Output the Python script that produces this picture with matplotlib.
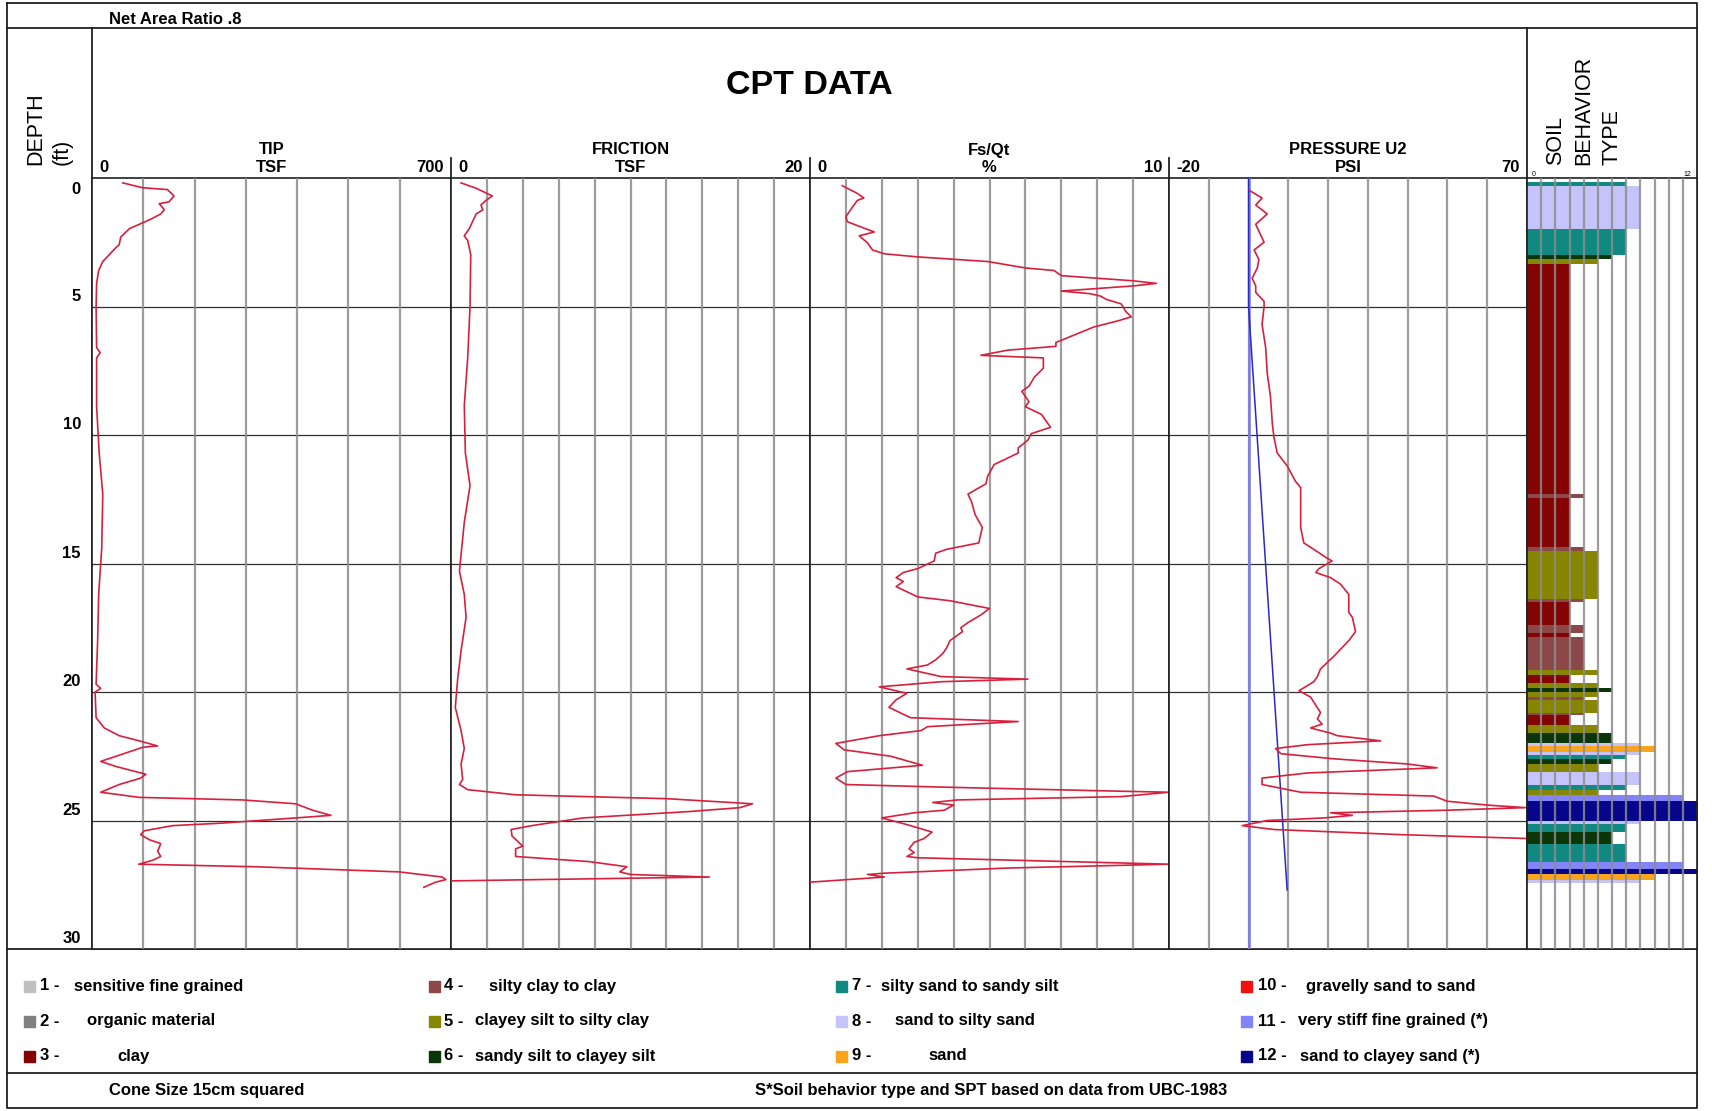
import matplotlib.pyplot as plt
from matplotlib import transforms

plt.rcParams['font.family'] = ['Liberation Sans', 'DejaVu Sans']

W, H = 1712, 1111

# ---- data (depth in ft) ----
tip_depth = [0.19, 0.38, 0.45, 0.7, 0.93, 1.0, 1.23, 1.4, 1.6, 1.97, 2.3, 2.6, 2.7, 2.98, 3.25, 3.6, 4.1,
             5.0, 6.6, 6.8, 7.0, 8.9, 10.7, 12.3, 14.4, 16.2, 18.0, 19.7, 19.86, 20.0, 21.0, 21.4, 21.7,
             21.9, 22.1, 22.15, 22.5, 22.7, 22.9, 23.2, 23.35, 23.6, 23.9, 24.1, 24.2, 24.35, 24.6, 24.8,
             24.9, 25.1, 25.2, 25.4, 25.55, 25.75, 25.9, 26.2, 26.4, 26.55, 26.7, 26.8, 27.0, 27.2, 27.3,
             27.4, 27.6]
tip_tsf = [60, 99, 147, 160, 150, 131, 141, 134, 115, 73, 56, 53, 47, 34, 21, 13, 9,
           8, 9, 16, 9, 9, 14, 21, 19, 13, 11, 8, 17, 6, 8, 24, 53,
           92, 128, 99, 47, 17, 47, 105, 95, 53, 17, 92, 294, 397, 430, 466,
           397, 255, 157, 102, 95, 112, 134, 128, 134, 118, 91, 320, 599, 683, 690,
           670, 647]

fric_depth = [0.19, 0.4, 0.7, 0.87, 1.05, 1.24, 1.4, 1.7, 1.97, 2.25, 2.43, 2.98, 5.0, 7.0, 8.85, 10.7,
              11.97, 13.4, 15.3, 16.2, 17.1, 18.4, 19.5, 20.6, 21.5, 22.2, 22.8, 23.4, 23.6, 23.8, 24.0,
              24.15, 24.35, 24.5, 24.65, 24.9, 25.2, 25.35, 25.6, 26.0, 26.1, 26.4, 26.6, 26.8, 27.0,
              27.1, 27.2, 27.35]
fric_tsf = [0.56, 1.4, 2.3, 1.95, 1.67, 1.77, 1.4, 1.2, 1.02, 0.74, 0.93, 1.1, 1.06, 0.93, 0.74, 0.8,
            1.06, 0.74, 0.47, 0.74, 0.84, 0.56, 0.37, 0.24, 0.56, 0.74, 0.56, 0.65, 0.47, 0.93, 3.6,
            12.0, 16.8, 16.1, 13.3, 7.35, 4.5, 3.35, 3.4, 4.0, 3.6, 3.6, 7.7, 9.8, 9.4,
            10.0, 14.4, 0.0]

ratio_depth = [0.3, 0.6, 0.78, 0.87, 1.14, 1.5, 1.7, 1.88, 2.1, 2.25, 2.52, 2.8, 2.95, 3.07, 3.25, 3.5,
               3.6, 3.8, 4.0, 4.1, 4.2, 4.4, 4.5, 4.6, 4.72, 4.9, 5.2, 5.4, 5.55, 5.8, 6.2, 6.4, 6.55,
               6.7, 6.9, 7.0, 7.4, 7.75, 8.1, 8.3, 8.7, 8.9, 9.2, 9.7, 9.95, 10.2, 10.5, 10.7, 11.15,
               11.6, 11.9, 12.3, 12.6, 13.1, 13.6, 14.2, 14.45, 14.6, 14.9, 15.2, 15.35, 15.55, 15.7,
               15.9, 16.3, 16.45, 16.75, 17.0, 17.3, 17.5, 17.65, 18.0, 18.3, 18.5, 18.75, 18.95, 19.1,
               19.4, 19.5, 19.6, 19.8, 20.05, 20.3, 20.6, 21.0, 21.15, 21.35, 21.5, 21.7, 22.0, 22.25,
               22.5, 22.85, 23.1, 23.35, 23.6, 23.7, 23.85, 23.9, 24.07, 24.2, 24.3, 24.4, 24.6, 24.7,
               24.9, 25.16, 25.45, 25.7, 25.85, 26.1, 26.25, 26.4, 26.45, 26.7, 26.85, 27.05, 27.1,
               27.2, 27.4]
ratio_pct = [0.9, 1.32, 1.5, 1.32, 1.18, 1.0, 1.04, 1.37, 1.79, 1.37, 1.6, 1.74, 2.07, 3.0, 4.95, 6.0,
             6.8, 7.0, 9.0, 9.65, 9.0, 7.0, 7.8, 8.1, 8.25, 8.67, 8.8, 8.95, 8.6, 7.9, 7.2, 6.85, 6.85,
             5.5, 4.76, 6.5, 6.5, 6.25, 6.1, 5.9, 6.1, 6.0, 6.45, 6.7, 6.16, 6.07, 5.8, 5.8, 5.13,
             4.95, 4.9, 4.4, 4.5, 4.6, 4.8, 4.7, 3.8, 3.5, 3.46, 3.0, 2.6, 2.4, 2.6,
             2.4, 3.0, 3.9, 5.0, 4.76, 4.4, 4.2, 4.25, 3.9, 3.8, 3.7, 3.5, 3.27, 2.7,
             3.65, 6.07, 3.65, 1.93, 2.7, 2.4, 2.2, 2.8, 5.8, 3.27, 3.1, 1.93, 0.72, 0.95,
             2.25, 3.13, 1.04, 0.72, 1.0, 3.65, 8.3, 10.0, 8.67, 4.1, 3.42, 4.0, 3.74, 2.9,
             2.0, 2.7, 3.4, 3.18, 2.9, 2.76, 2.9, 2.7, 3.0, 10.0, 5.5, 2.07, 1.6,
             2.07, 0.0]

u2_depth = [0.5, 0.78, 1.05, 1.4, 1.8, 2.07, 2.5, 2.8, 3.17, 3.5, 3.9, 4.2, 4.45, 4.8, 5.0, 5.7, 6.6,
            7.6, 8.5, 9.6, 10.1, 10.7, 11.2, 11.8, 12.05, 12.5, 13.6, 14.2, 14.5, 14.8, 14.9, 15.2,
            15.35, 15.55, 15.8, 16.2, 16.9, 17.1, 17.65, 18.0, 18.6, 19.1, 19.4, 19.6, 19.95, 20.2,
            20.8, 21.05, 21.25, 21.4, 21.6, 21.7, 21.9, 22.05, 22.2, 22.4, 22.6, 22.8, 22.95, 23.15,
            23.35, 23.6, 23.9, 24.05, 24.25, 24.4, 24.5, 24.6, 24.7, 24.8, 24.9, 25.0, 25.2, 25.35,
            25.55, 25.7]
u2_psi = [0.4, 3.4, 1.8, 4.7, 1.8, 2.6, 3.9, 1.4, 2.6, 2.2, 0.9, 1.8, 1.8, 3.9, 3.9, 3.4, 4.3,
          4.7, 5.5, 6.0, 6.4, 7.2, 9.7, 11.8, 13.1, 13.1, 13.1, 13.9, 16.9, 19.8, 21.0, 17.7,
          16.9, 20.6, 23.1, 25.2, 25.2, 26.1, 26.9, 25.2, 21.5, 18.1, 17.3, 16.4, 12.7, 15.6,
          18.1, 17.3, 18.5, 15.6, 20.6, 22.3, 33.2, 14.8, 6.8, 8.1, 21.5, 39.9, 47.4, 14.8,
          3.4, 3.4, 13.1, 46.6, 49.9, 60.0, 69.6, 49.9, 20.6, 26.1, 19.0, 4.7, -1.6, 6.4,
          38.2, 70.0]

hydro_depth = [0, 5, 27.7]
hydro_psi = [0, 0, 9.7]

sbt_top = [0.15, 0.3, 2.0, 3.0, 3.15, 3.35, 12.3, 12.45, 14.35, 14.5, 16.4, 16.5, 17.4, 17.7, 17.85,
           19.15, 19.35, 19.65, 19.85, 20.0, 20.2, 20.3, 20.8, 20.9, 21.3, 21.6, 22.0, 22.1, 22.35,
           22.45, 22.6, 22.8, 23.1, 23.6, 23.8, 24.0, 24.25, 25.0, 25.15, 25.45, 25.9, 26.6, 26.9,
           27.1, 27.3]
sbt_bottom = sbt_top[1:] + [27.45]
sbt_zone = [7, 8, 7, 6, 5, 3, 4, 3, 4, 5, 4, 3, 4, 3, 4,
            5, 3, 5, 6, 5, 4, 5, 4, 3, 5, 6, 8, 9, 8,
            7, 6, 5, 8, 7, 5, 11, 12, 8, 7, 6, 7, 11, 12,
            9, 8]

zone_names = ['sensitive fine grained', 'organic material', 'clay', 'silty clay to clay',
              'clayey silt to silty clay', 'sandy silt to clayey silt', 'silty sand to sandy silt',
              'sand to silty sand', 'sand', 'gravelly sand to sand', 'very stiff fine grained (*)',
              'sand to clayey sand (*)']
zone_colors = ['#c0c0c0', '#808080', '#840404', '#8c4848', '#868600', '#0a360a', '#108a80',
               '#c4c4fa', '#f8a41c', '#f01010', '#8484fa', '#06068a']

track_edges = [92, 451, 810, 1169, 1527, 1697]
track_limits = [(0, 700), (0, 20), (0, 10), (-20, 70), (0, 12)]
track_steps = [100, 2, 1, 10, 1]
track_titles = [('TIP', 'TSF', '0', '700'), ('FRICTION', 'TSF', '0', '20'),
                ('Fs/Qt', '%', '0', '10'), ('PRESSURE U2', 'PSI', '-20', '70')]
y_top, y_bot = 178, 949

line_red = '#d8203c'
bold = dict(fontweight='bold', fontsize=12)

fig = plt.figure(figsize=(W / 100, H / 100), dpi=100)
ax0 = fig.add_axes([0, 0, 1, 1], zorder=0)
ax0.set_xlim(0, W)
ax0.set_ylim(H, 0)
ax0.axis('off')

# frame and separators
k = dict(color='#202020', lw=1.3)
ax0.plot([7, 1697, 1697, 7, 7], [3, 3, 1108, 1108, 3], **k)
ax0.plot([7, 1697], [28, 28], **k)
ax0.plot([7, 1697], [y_bot, y_bot], **k)
ax0.plot([7, 1697], [1073, 1073], **k)
ax0.plot([92, 92], [28, y_bot], **k)
ax0.plot([1527, 1527], [28, y_bot], **k)
for xe in track_edges[1:4]:
    ax0.plot([xe, xe], [158, y_top], **k)

ax0.text(109, 19, 'Net Area Ratio .8', ha='left', va='center', **bold)
ax0.text(809, 86, 'CPT DATA', ha='center', va='center', fontsize=24.5, fontweight='bold')
ax0.text(49, 165, 'DEPTH\n(ft)', rotation=90, ha='center', va='bottom', multialignment='left',
         fontsize=15.5, linespacing=1.3)
ax0.text(1584, 165, 'SOIL\nBEHAVIOR\nTYPE', rotation=90, ha='center', va='bottom',
         multialignment='left', fontsize=15.5, linespacing=1.45)

axes = []
for i in range(5):
    x0, x1 = track_edges[i], track_edges[i + 1]
    ax = fig.add_axes([x0 / W, 1 - y_bot / H, (x1 - x0) / W, (y_bot - y_top) / H], zorder=1)
    lo, hi = track_limits[i]
    ax.set_xlim(lo, hi)
    ax.set_ylim(30, 0)
    ax.set_xticks([])
    ax.set_yticks([])
    for s in ax.spines.values():
        s.set_color('#202020')
        s.set_linewidth(1.2)
    v = lo + track_steps[i]
    while v < hi - 1e-9:
        ax.axvline(v, color='#8c8c8c', lw=1.6, zorder=3, alpha=0.85)
        v += track_steps[i]
    if i < 4:
        for d in range(5, 30, 5):
            ax.axhline(d, color='#303030', lw=0.9, zorder=2)
        cx = (x0 + x1) / 2
        t, u, a, b = track_titles[i]
        ax0.text(cx, 150, t, ha='center', va='center', **bold)
        ax0.text(cx, 168, u, ha='center', va='center', **bold)
        ax0.text(x0 + 7, 168, a, ha='left', va='center', **bold)
        ax0.text(x1 - 7, 168, b, ha='right', va='center', **bold)
    axes.append(ax)

ax_tip, ax_fric, ax_ratio, ax_u2, ax_sbt = axes
ax_tip.plot(tip_tsf, tip_depth, color=line_red, lw=1.2, zorder=4)
ax_fric.plot(fric_tsf, fric_depth, color=line_red, lw=1.2, zorder=4)
ax_ratio.plot(ratio_pct, ratio_depth, color=line_red, lw=1.2, zorder=4)
ax_u2.axvline(0, color='#7878f0', lw=1.8, zorder=3)
ax_u2.plot(hydro_psi, hydro_depth, color='#2828c8', lw=1.1, zorder=4)
ax_u2.plot(u2_psi, u2_depth, color=line_red, lw=1.2, zorder=5)

heights = [b - t for t, b in zip(sbt_top, sbt_bottom)]
ax_sbt.barh(sbt_top, sbt_zone, height=heights, left=0, align='edge',
            color=[zone_colors[z - 1] for z in sbt_zone], zorder=2)
ax0.text(1532, 175, '0', fontsize=5, ha='left', va='center')
ax0.text(1691, 175, '12', fontsize=5, ha='right', va='center')

# depth labels
trans = ax_tip.get_yaxis_transform()
for d in range(0, 31, 5):
    if d == 0:
        tr = transforms.offset_copy(trans, fig=fig, x=-8, y=-3, units='points')
        va = 'top'
    else:
        tr = transforms.offset_copy(trans, fig=fig, x=-8, y=2, units='points')
        va = 'bottom'
    ax_tip.text(0, d, str(d), transform=tr, ha='right', va=va, clip_on=False, **bold)

# legend
col_x = [24, 429, 836, 1241]
num_x = [40, 444, 852, 1258]
desc_x = [[74, 87, 117], [489, 475, 475], [881, 895, 928], [1306, 1298, 1300]]
row_y = [986, 1021, 1056]
for n in range(12):
    c, r = n // 3, n % 3
    ax0.add_patch(plt.Rectangle((col_x[c], row_y[r] - 5.5), 11, 11, color=zone_colors[n]))
    ax0.text(num_x[c], row_y[r], f'{n + 1} -', ha='left', va='center', **bold)
    ax0.text(desc_x[c][r], row_y[r], zone_names[n], ha='left', va='center', **bold)

ax0.text(207, 1091, 'Cone Size 15cm squared', ha='center', va='center', **bold)
ax0.text(991, 1091, 'S*Soil behavior type and SPT based on data from UBC-1983', ha='center',
         va='center', **bold)

fig.savefig('out.png', dpi=100, facecolor='white')
